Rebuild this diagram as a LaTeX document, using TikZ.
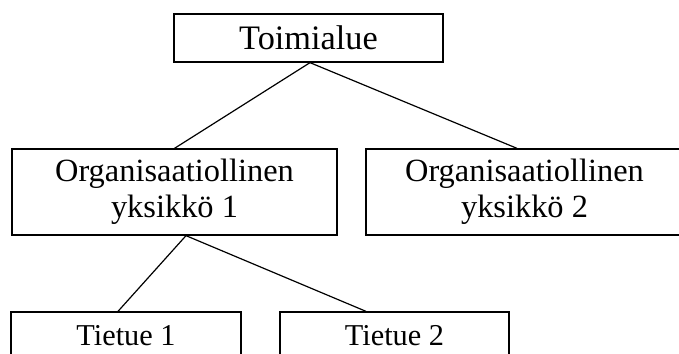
\documentclass[tikz,border=0pt]{standalone}
\usepackage{fontspec}
\setmainfont{Liberation Serif}
\usetikzlibrary{calc}
\tikzset{
  box/.style={draw, line width=1.3pt, inner sep=0pt, align=center},
  link/.style={line width=1.2pt},
}
\begin{document}
\begin{tikzpicture}[x=1pt,y=-1pt]
\useasboundingbox (0,0) rectangle (679,353);
\clip (0,0) rectangle (679,353);
\node[box, minimum width=269pt, minimum height=48pt, font=\fontsize{34.3}{38}\selectfont] (top) at (308.5,38) {Toimialue};
\node[box, minimum width=325pt, minimum height=86pt, font=\fontsize{32.4}{36.5}\selectfont] (org1) at (174.5,192) {Organisaatiollinen\\yksikkö 1};
\node[box, minimum width=317pt, minimum height=86pt, font=\fontsize{32.4}{36.5}\selectfont] (org2) at (524.5,192) {Organisaatiollinen\\yksikkö 2};
\node[box, minimum width=230pt, minimum height=47pt, font=\fontsize{30.3}{34}\selectfont] (t1) at (126,335.5) {Tietue 1};
\node[box, minimum width=229pt, minimum height=47pt, font=\fontsize{30.3}{34}\selectfont] (t2) at (394.5,335.5) {Tietue 2};
\draw[link] ($(top.south)+(1.5,0)$) -- (org1.north);
\draw[link] ($(top.south)+(1.5,0)$) -- ($(org2.north)+(-7.5,0)$);
\draw[link] ($(org1.south)+(11.5,0)$) -- ($(t1.north)+(-8,0)$);
\draw[link] ($(org1.south)+(11.5,0)$) -- ($(t2.north)+(-28.5,0)$);
\end{tikzpicture}
\end{document}
